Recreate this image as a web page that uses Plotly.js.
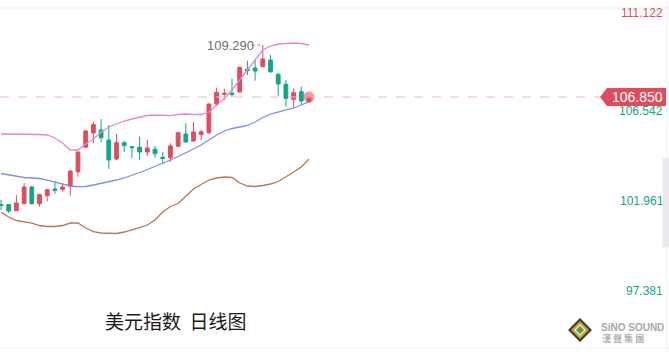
<!DOCTYPE html>
<html>
<head>
<meta charset="utf-8">
<script src="https://cdn.plot.ly/plotly-3.0.1.min.js"></script>
<style>html,body{margin:0;padding:0;background:#fff;}#chart{width:669px;height:352px;}</style>
</head>
<body>
<div id="chart"></div>
<script>
// ---- data (US Dollar Index, daily) ----
const days = [0,1,2,3,4,5,6,7,8,9,10,11,12,13,14,15,16,17,18,19,20,21,22,23,24,25,26,27,28,29,30,31,32,33,34,35,36,37,38,39,40];
const openP  = [101.803,101.800,101.512,101.840,102.625,101.840,102.216,102.531,102.517,102.648,103.343,104.489,105.160,105.301,104.831,103.939,104.704,104.516,104.489,104.268,104.395,104.019,104.000,104.536,105.113,104.784,105.080,105.174,106.521,106.977,107.024,107.085,108.151,108.212,108.273,108.587,107.916,107.446,106.742,107.099,106.630];
const highP  = [102.014,101.826,102.249,102.813,102.686,102.310,102.531,102.906,102.798,103.423,104.282,105.301,105.677,105.817,105.536,105.113,104.784,104.550,104.986,104.831,104.550,104.268,104.677,105.221,105.615,105.677,105.301,106.554,107.287,107.240,107.719,108.273,108.554,108.620,109.290,108.822,107.963,107.648,107.259,107.334,106.897];
const lowP   = [101.545,101.404,101.498,101.826,101.793,101.700,101.953,102.310,102.404,102.216,103.108,104.470,104.676,104.723,103.470,103.892,104.268,103.986,103.892,104.080,104.000,103.728,103.813,104.489,104.704,104.751,104.831,105.113,106.474,106.709,106.850,107.052,107.883,107.615,108.244,107.977,106.911,106.395,106.348,106.475,106.615];
const closeP = [101.756,101.498,101.873,102.625,101.840,102.263,102.498,102.470,102.625,103.376,104.268,105.254,105.550,104.939,103.892,104.704,104.563,104.470,104.268,104.456,104.188,103.972,104.550,105.174,104.737,105.207,105.221,106.521,107.071,107.024,106.977,108.244,108.085,108.071,108.634,108.038,107.460,106.789,107.052,106.662,106.850];
const bollUpper = [105.113,105.113,105.113,105.113,105.113,105.090,105.066,104.925,104.691,104.362,104.362,104.644,104.878,105.207,105.442,105.582,105.723,105.817,105.911,105.981,106.005,105.981,105.972,106.028,106.052,106.028,106.028,106.146,106.451,106.780,107.179,107.648,108.118,108.587,109.057,109.244,109.338,109.362,109.385,109.362,109.291];
const bollMid   = [103.259,103.188,103.118,103.071,103.047,103.024,102.953,102.859,102.765,102.672,102.639,102.648,102.719,102.789,102.859,102.953,103.047,103.165,103.306,103.446,103.587,103.751,103.892,104.057,104.221,104.409,104.597,104.831,105.066,105.254,105.371,105.442,105.512,105.677,105.888,106.052,106.146,106.240,106.334,106.475,106.630];
const bollLower = [101.451,101.216,101.052,100.981,100.934,100.817,100.770,100.770,100.817,100.934,100.934,100.700,100.526,100.465,100.441,100.441,100.512,100.606,100.723,100.840,101.075,101.451,101.709,101.850,102.202,102.531,102.742,102.953,103.047,103.094,103.071,102.812,102.672,102.648,102.695,102.765,102.883,103.094,103.329,103.564,103.939];
const axisLabels = ["111.122","106.542","101.961","97.381"];
const lastPriceLabel = "106.850";
const highLabel = "109.290";
const chartTitle = "美元指数  日线图";

// ---- layout helpers ----
const W = 669, H = 352;
const px = v => v / W;            // pixel x -> paper
const py = v => 1 - v / H;        // pixel y -> paper
const RED = "#df4d5c", GREEN = "#11a689";
const last = days.length - 1;
const hiIdx = highP.indexOf(Math.max(...highP));

const traces = [
  {type:"scatter", mode:"lines", x:days, y:bollUpper, line:{color:"#e08ad6", width:1.3}, hoverinfo:"skip"},
  {type:"scatter", mode:"lines", x:days, y:bollMid,   line:{color:"#7d8ff2", width:1.3}, hoverinfo:"skip"},
  {type:"scatter", mode:"lines", x:days, y:bollLower, line:{color:"#b7774f", width:1.3}, hoverinfo:"skip"},
  {type:"candlestick", x:days, open:openP, high:highP, low:lowP, close:closeP,
   increasing:{line:{color:RED, width:1}, fillcolor:RED},
   decreasing:{line:{color:GREEN, width:1}, fillcolor:GREEN}, whiskerwidth:0, hoverinfo:"skip"},
  {type:"scatter", mode:"markers", x:[days[last]], y:[closeP[last]],
   marker:{size:11, color:"rgba(232,70,85,0.55)", line:{width:0}}, hoverinfo:"skip"}
];

// price tag geometry
const tagL = 600, tagR = 666, tagBody = 607;
const unitPx = 21.3; // pixels per index point
const half = 9 / unitPx;
const cp = closeP[last];

const shapes = [
  {type:"line", xref:"paper", yref:"paper", x0:0, x1:1, y0:py(8), y1:py(8), line:{color:"#eceef1", width:1}},
  {type:"line", xref:"paper", yref:"paper", x0:px(667), x1:px(667), y0:0, y1:1, line:{color:"#eceef1", width:1}},
  {type:"line", xref:"paper", yref:"paper", x0:0, x1:1, y0:py(348), y1:py(348), line:{color:"#f0f0f0", width:1}},
  {type:"line", xref:"paper", yref:"y", x0:0, x1:px(tagL), y0:cp, y1:cp, line:{color:"#f3b7c0", width:1, dash:"dash"}},
  {type:"line", xref:"x", yref:"y", x0:hiIdx - 1.45, x1:hiIdx - 0.2, y0:highP[hiIdx], y1:highP[hiIdx], line:{color:"#8a8d95", width:1, dash:"dot"}},
  {type:"path", xref:"paper", yref:"y", fillcolor:RED, line:{width:0},
   path:`M ${px(tagL)},${cp} L ${px(tagBody)},${cp+half} L ${px(tagR)},${cp+half} L ${px(tagR)},${cp-half} L ${px(tagBody)},${cp-half} Z`},
  // logo diamond
  {type:"path", xref:"paper", yref:"paper", fillcolor:"#3d3d2c", line:{width:0},
   path:`M ${px(568)},${py(330)} L ${px(580)},${py(318)} L ${px(592)},${py(330)} L ${px(580)},${py(342)} Z`},
  {type:"path", xref:"paper", yref:"paper", fillcolor:"#c9a23a", line:{width:0},
   path:`M ${px(571)},${py(330)} L ${px(580)},${py(321)} L ${px(589)},${py(330)} L ${px(580)},${py(339)} Z`},
  {type:"path", xref:"paper", yref:"paper", fillcolor:"#e8e4d0", line:{width:0},
   path:`M ${px(574)},${py(330)} L ${px(580)},${py(324)} L ${px(586)},${py(330)} L ${px(580)},${py(336)} Z`},
  {type:"path", xref:"paper", yref:"paper", fillcolor:"#5c9a3c", line:{width:0},
   path:`M ${px(576)},${py(330)} L ${px(580)},${py(326)} L ${px(584)},${py(330)} L ${px(580)},${py(334)} Z`}
];

const lblFont = (c, s) => ({family:"Liberation Sans, Arial, sans-serif", size:s, color:c});
const annotations = [
  {xref:"paper", yref:"paper", x:px(665), y:py(13), xanchor:"right", yanchor:"middle", showarrow:false, text:axisLabels[0], font:lblFont(RED,12)},
  {xref:"paper", yref:"paper", x:px(665), y:py(111), xanchor:"right", yanchor:"middle", showarrow:false, text:axisLabels[1], font:lblFont(GREEN,12)},
  {xref:"paper", yref:"paper", x:px(666), y:py(201), xanchor:"right", yanchor:"middle", showarrow:false, text:axisLabels[2], font:lblFont(GREEN,12)},
  {xref:"paper", yref:"paper", x:px(665), y:py(291), xanchor:"right", yanchor:"middle", showarrow:false, text:axisLabels[3], font:lblFont(GREEN,12)},
  // scrollbar-like grey bar on the right edge (drawn over the label)
  {xref:"paper", yref:"paper", x:px(662), y:py(158), xanchor:"left", yanchor:"top", showarrow:false, text:" ",
   width:7, height:88, bgcolor:"#e9e9ee", borderpad:0, font:{size:1}},
  {xref:"paper", yref:"y", x:px(637), y:cp, xanchor:"center", yanchor:"middle", showarrow:false, text:lastPriceLabel, font:lblFont("#ffffff",14)},
  {xref:"x", yref:"y", x:days[hiIdx], y:highP[hiIdx], xanchor:"right", yanchor:"middle", xshift:-7, showarrow:false,
   text:highLabel, font:lblFont("#6c6f78",13)},
  {xref:"paper", yref:"paper", x:px(103), y:py(320), xanchor:"left", yanchor:"middle", showarrow:false,
   text:chartTitle, font:{family:"Noto Sans CJK SC, sans-serif", size:19, color:"#1a1a1a"}},
  {xref:"paper", yref:"paper", x:px(599), y:py(327), xanchor:"left", yanchor:"middle", showarrow:false,
   text:"<b>SiNO SOUND</b>", font:lblFont("#a8a8a8",10)},
  {xref:"paper", yref:"paper", x:px(600), y:py(338), xanchor:"left", yanchor:"middle", showarrow:false,
   text:"<b>漢 聲 集 團</b>", font:{family:"Noto Sans CJK TC, sans-serif", size:9, color:"#b0b0b0"}}
];

const xr0 = -1 / 7.7, xr1 = (W - 1) / 7.7;
const yTop = cp + 97 / unitPx, yBot = yTop - H / unitPx;

const layout = {
  width:W, height:H, margin:{l:0,r:0,t:0,b:0,pad:0},
  paper_bgcolor:"#ffffff", plot_bgcolor:"#ffffff", showlegend:false,
  xaxis:{range:[xr0,xr1], visible:false, fixedrange:true, rangeslider:{visible:false}},
  yaxis:{range:[yBot,yTop], visible:false, fixedrange:true},
  shapes:shapes, annotations:annotations, hovermode:false
};

Plotly.newPlot("chart", traces, layout, {displayModeBar:false, staticPlot:true});
</script>
</body>
</html>
